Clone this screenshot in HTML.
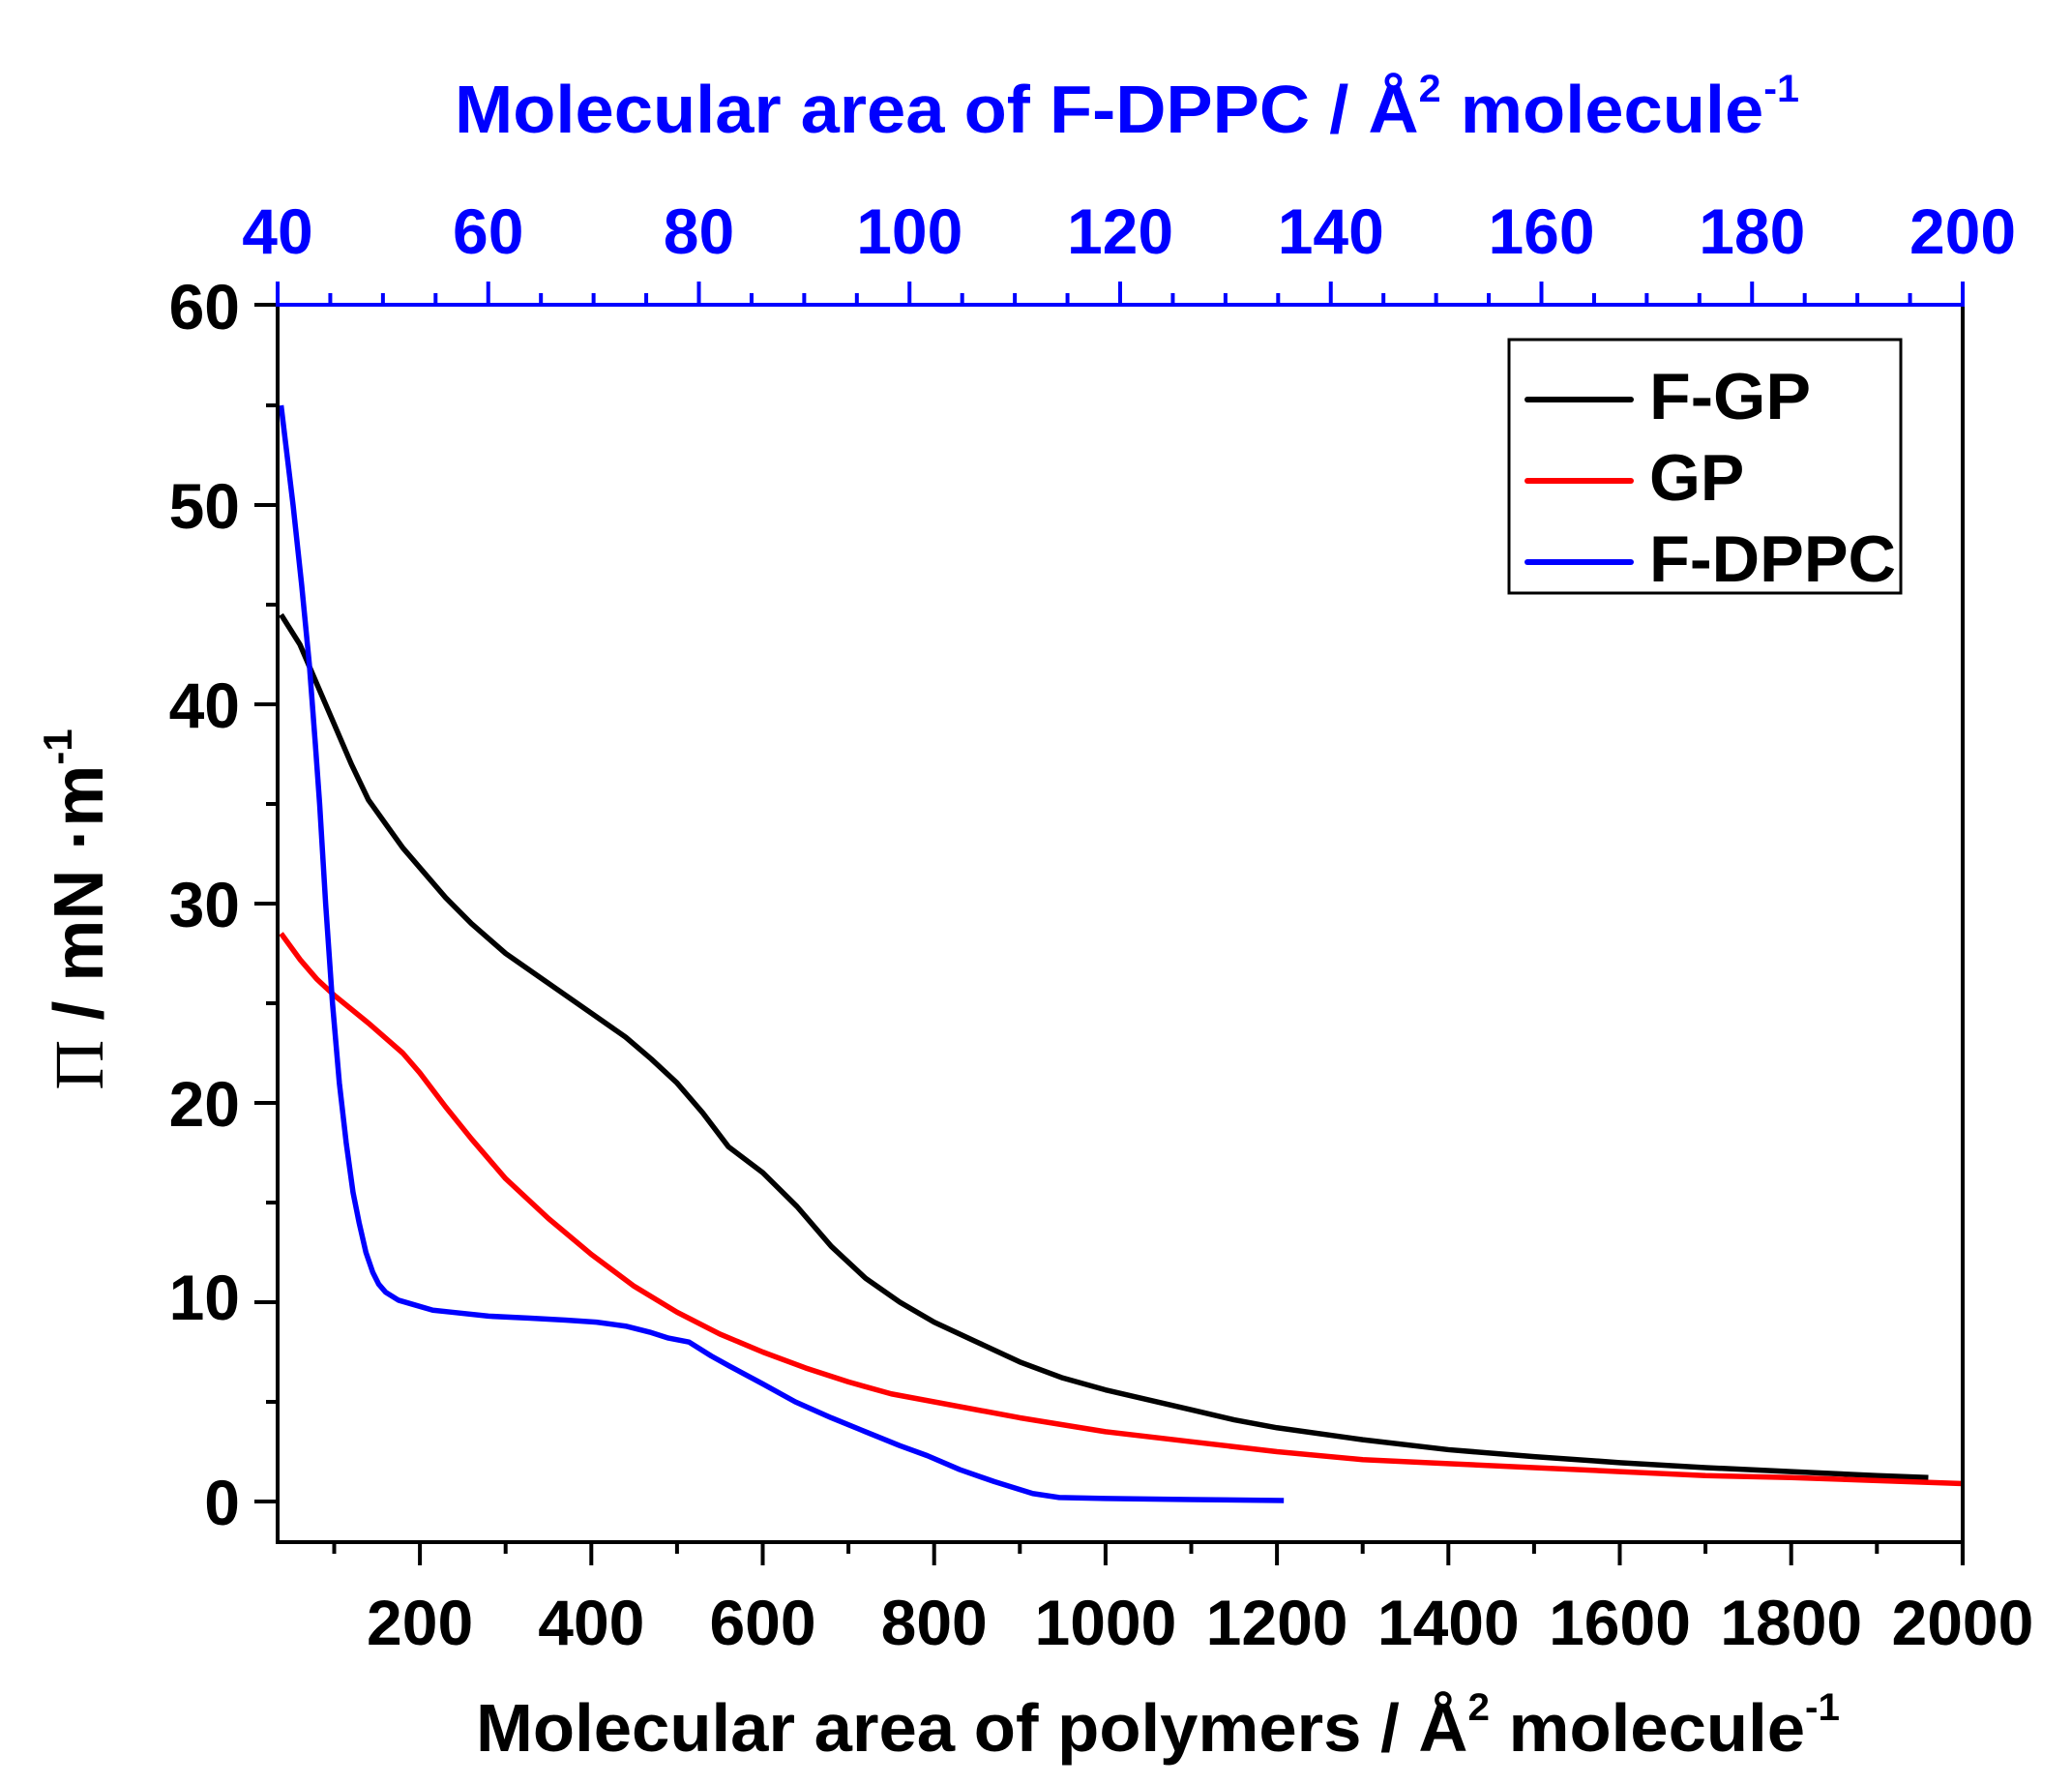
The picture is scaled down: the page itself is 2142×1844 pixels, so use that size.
<!DOCTYPE html>
<html><head><meta charset="utf-8"><style>
html,body{margin:0;padding:0;background:#fff;}
svg{display:block;font-family:"Liberation Sans",Arial,sans-serif;font-weight:bold;}
</style></head><body>
<svg width="2142" height="1844" viewBox="0 0 2142 1844" xmlns="http://www.w3.org/2000/svg">
<rect width="2142" height="1844" fill="#fff"/>
<g transform="matrix(0.886 0 0 -20.6 256.9 1552)" fill="none" stroke-width="5.5" stroke-linejoin="round">
<polyline vector-effect="non-scaling-stroke" stroke="#000" points="38,44.5 60,43 80,41 100,39 120,37 140,35.2 160,34 180,32.8 200,31.8 230,30.3 260,29 300,27.5 350,26 400,24.5 440,23.3 470,22.2 500,21 530,19.5 560,17.8 600,16.5 640,14.8 680,12.8 720,11.2 760,10 800,9 850,8 900,7 950,6.2 1000,5.6 1050,5.1 1100,4.6 1150,4.1 1200,3.7 1300,3.1 1400,2.6 1500,2.25 1600,1.95 1700,1.7 1800,1.5 1900,1.3 1960,1.2"/>
<polyline vector-effect="non-scaling-stroke" stroke="#f00" points="38,28.5 60,27.2 80,26.2 100,25.4 140,24 180,22.5 200,21.5 230,19.8 260,18.2 300,16.2 350,14.2 400,12.4 450,10.8 500,9.5 550,8.4 600,7.5 650,6.7 700,6 750,5.4 800,5 900,4.2 1000,3.5 1100,3 1200,2.5 1300,2.1 1400,1.9 1500,1.7 1600,1.5 1700,1.3 1800,1.2 1900,1.05 2000,0.9"/>
<polyline vector-effect="non-scaling-stroke" stroke="#00f" points="38,55 45,52.5 52,50 62,46 71,42 78,38 83,35 90,30 98,25 106,21 114,18 122,15.5 129,14 137,12.5 145,11.5 152,10.9 160,10.5 175,10.1 191,9.9 215,9.6 237,9.5 280,9.3 329,9.2 370,9.1 406,9 440,8.8 468,8.5 490,8.2 514,8 540,7.3 561,6.8 600,5.9 638,5 680,4.2 720,3.5 760,2.8 792,2.3 830,1.6 870,1 915,0.4 946,0.2 1000,0.15 1100,0.1 1208,0.05"/>
</g>
<g stroke="#000" stroke-width="4" fill="none">
<line x1="287" y1="315" x2="287" y2="1596"/>
<line x1="2029" y1="315" x2="2029" y2="1618"/>
<line x1="285" y1="1594" x2="2031" y2="1594"/>
<line x1="263" y1="315" x2="287" y2="315"/>
</g>
<line x1="285" y1="315" x2="2031" y2="315" stroke="#00f" stroke-width="4"/>
<g stroke="#000" stroke-width="4">
<line x1="263" y1="1552" x2="287" y2="1552"/><line x1="275" y1="1449" x2="287" y2="1449"/>
<line x1="263" y1="1346" x2="287" y2="1346"/><line x1="275" y1="1243" x2="287" y2="1243"/>
<line x1="263" y1="1140" x2="287" y2="1140"/><line x1="275" y1="1037" x2="287" y2="1037"/>
<line x1="263" y1="934" x2="287" y2="934"/><line x1="275" y1="831" x2="287" y2="831"/>
<line x1="263" y1="728" x2="287" y2="728"/><line x1="275" y1="625" x2="287" y2="625"/>
<line x1="263" y1="522" x2="287" y2="522"/><line x1="275" y1="419" x2="287" y2="419"/>
</g>
<g font-size="66" text-anchor="end" fill="#000">
<text x="248" y="1576">0</text><text x="248" y="1364">10</text>
<text x="248" y="1164">20</text><text x="248" y="958">30</text><text x="248" y="752">40</text>
<text x="248" y="546">50</text><text x="248" y="340">60</text>
</g>
<g stroke="#000" stroke-width="4" id="bt"></g>
<g font-size="66" text-anchor="middle" fill="#000" id="bl"></g>
<g stroke="#00f" stroke-width="4" id="tt"></g>
<g font-size="66" text-anchor="middle" fill="#00f" id="tl"></g>
<script>
var ns="http://www.w3.org/2000/svg";
function el(p,t,a,txt){var e=document.createElementNS(ns,t);for(var k in a)e.setAttribute(k,a[k]);if(txt)e.textContent=txt;document.getElementById(p).appendChild(e);}
for(var v=100;v<=2000;v+=100){var x=256.9+v*0.886;var maj=v%200==0;
el("bt","line",{x1:x,y1:1594,x2:x,y2:maj?1618:1606});
if(maj)el("bl","text",{x:x,y:1700},String(v));}
for(var v=40;v<=200;v+=5){var x=287+(v-40)*10.8875;var maj=v%20==0;
el("tt","line",{x1:x,y1:315,x2:x,y2:maj?291:303});
if(maj)el("tl","text",{x:x,y:262},String(v));}
</script>
<rect x="1560" y="351" width="405" height="262" fill="#fff" stroke="#000" stroke-width="3"/>
<g stroke-width="6" stroke-linecap="round">
<line x1="1579" y1="413" x2="1686" y2="413" stroke="#000"/>
<line x1="1579" y1="497" x2="1686" y2="497" stroke="#f00"/>
<line x1="1579" y1="581" x2="1686" y2="581" stroke="#00f"/>
</g>
<g font-size="68" fill="#000">
<text x="1705" y="433" textLength="167" lengthAdjust="spacingAndGlyphs">F-GP</text><text x="1705" y="517">GP</text><text x="1705" y="601" textLength="255" lengthAdjust="spacingAndGlyphs">F-DPPC</text>
</g>
<text x="1165" y="137" font-size="70" fill="#00f" text-anchor="middle" textLength="1390" lengthAdjust="spacingAndGlyphs">Molecular area of F-DPPC / Å<tspan dy="-32" font-size="40">2</tspan><tspan dy="32"> molecule</tspan><tspan dy="-32" font-size="40">-1</tspan></text>
<text x="1197" y="1810" font-size="70" fill="#000" text-anchor="middle" textLength="1410" lengthAdjust="spacingAndGlyphs">Molecular area of polymers / Å<tspan dy="-32" font-size="40">2</tspan><tspan dy="32"> molecule</tspan><tspan dy="-32" font-size="40">-1</tspan></text>
<text transform="translate(106,940) rotate(-90)" font-size="72" fill="#000" text-anchor="middle"><tspan font-family="Liberation Serif,serif" font-weight="normal">Π</tspan> / mN ·m<tspan dy="-32" font-size="42">-1</tspan></text>
</svg>
</body></html>
